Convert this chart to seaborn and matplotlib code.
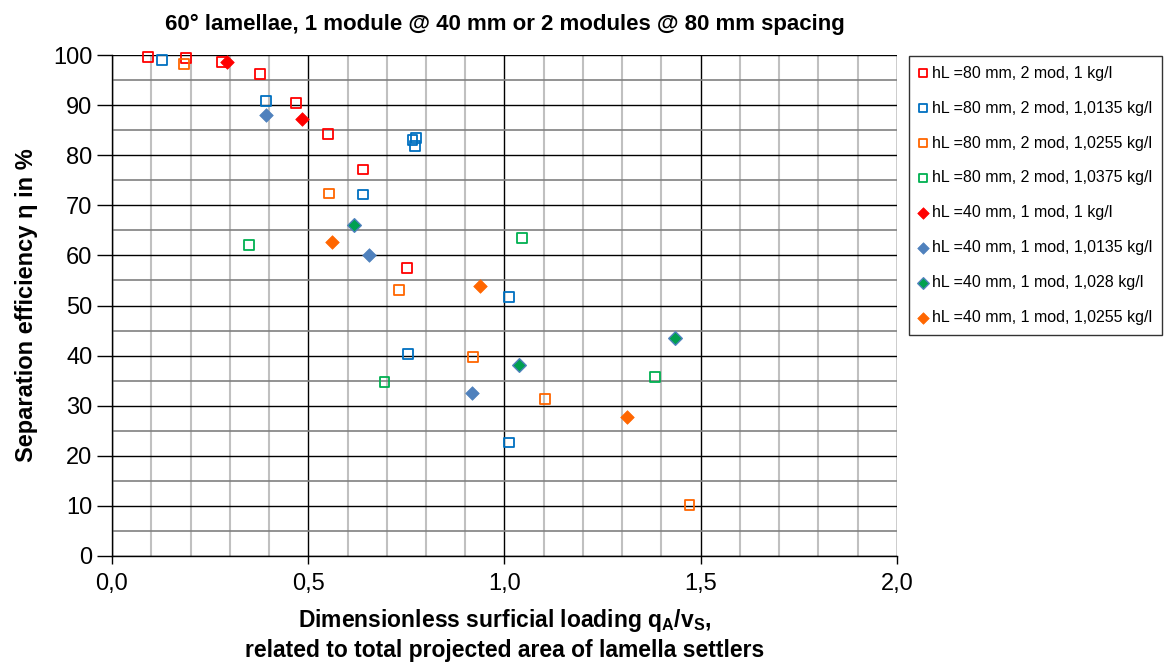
import matplotlib
matplotlib.use("Agg")
import matplotlib.pyplot as plt
import seaborn as sns
from matplotlib.ticker import MultipleLocator

sns.set_style("white")
plt.rcParams['font.family'] = ['Liberation Sans', 'DejaVu Sans']
plt.rcParams['mathtext.fontset'] = 'custom'
plt.rcParams['mathtext.rm'] = 'Liberation Sans'
plt.rcParams['mathtext.bf'] = 'Liberation Sans:bold'
for key in ['text.color', 'axes.labelcolor', 'xtick.color', 'ytick.color']:
    plt.rcParams[key] = 'black'

# data (x = qA/vS, y = efficiency in %)
x_80_1000 = [0.092, 0.189, 0.280, 0.377, 0.469, 0.550, 0.640, 0.752]
y_80_1000 = [99.6, 99.4, 98.6, 96.2, 90.4, 84.2, 77.2, 57.5]

x_80_10135 = [0.127, 0.392, 0.765, 0.775, 0.772, 0.640, 0.754, 1.011, 1.011]
y_80_10135 = [99.0, 90.8, 83.0, 83.4, 81.8, 72.1, 40.3, 51.7, 22.6]

x_80_10255 = [0.183, 0.553, 0.731, 0.920, 1.103, 1.472]
y_80_10255 = [98.2, 72.3, 53.1, 39.7, 31.3, 10.2]

x_80_10375 = [0.349, 1.045, 0.695, 1.383]
y_80_10375 = [62.1, 63.5, 34.7, 35.7]

x_40_1000 = [0.293, 0.484]
y_40_1000 = [98.6, 87.2]

x_40_10135 = [0.392, 0.655, 0.917]
y_40_10135 = [88.0, 60.1, 32.5]

x_40_1028 = [0.617, 1.037, 1.434]
y_40_1028 = [66.1, 38.1, 43.5]

x_40_10255 = [0.560, 0.937, 1.312]
y_40_10255 = [62.7, 53.9, 27.7]

series_labels = [
    "hL =80 mm, 2 mod, 1 kg/l",
    "hL =80 mm, 2 mod, 1,0135 kg/l",
    "hL =80 mm, 2 mod, 1,0255 kg/l",
    "hL =80 mm, 2 mod, 1,0375 kg/l",
    "hL =40 mm, 1 mod, 1 kg/l",
    "hL =40 mm, 1 mod, 1,0135 kg/l",
    "hL =40 mm, 1 mod, 1,028 kg/l",
    "hL =40 mm, 1 mod, 1,0255 kg/l",
]
x_ticklabels = ["0,0", "0,5", "1,0", "1,5", "2,0"]
y_ticklabels = ["0", "10", "20", "30", "40", "50", "60", "70", "80", "90", "100"]

xs = [x_80_1000, x_80_10135, x_80_10255, x_80_10375,
      x_40_1000, x_40_10135, x_40_1028, x_40_10255]
ys = [y_80_1000, y_80_10135, y_80_10255, y_80_10375,
      y_40_1000, y_40_10135, y_40_1028, y_40_10255]

# marker, size, face, edge, linewidth
styles = [
    ("s", 46, "none", "#FF0000", 1.3),
    ("s", 46, "none", "#0070C0", 1.3),
    ("s", 46, "none", "#FF6600", 1.3),
    ("s", 46, "none", "#00B050", 1.3),
    ("D", 48, "#FF0000", "#FF0000", 0.5),
    ("D", 48, "#4F81BD", "#4F81BD", 0.5),
    ("D", 48, "#00A050", "#4F81BD", 1.0),
    ("D", 48, "#FF6600", "#FF6600", 0.5),
]

fig = plt.figure(figsize=(11.68, 6.63), dpi=100)
ax = fig.add_axes([112 / 1168, 1 - 556 / 663, 785 / 1168, 501 / 663])

for x, y, lab, (m, sz, fc, ec, lw) in zip(xs, ys, series_labels, styles):
    sns.scatterplot(x=x, y=y, ax=ax, marker=m, s=sz, facecolor=fc,
                    edgecolor=ec, linewidth=lw, label=lab, clip_on=False,
                    zorder=5)

ax.set_xlim(0, 2)
ax.set_ylim(0, 100)
ax.set_xticks([0, 0.5, 1.0, 1.5, 2.0], x_ticklabels)
ax.set_yticks(range(0, 101, 10), y_ticklabels)
ax.xaxis.set_minor_locator(MultipleLocator(0.1))
ax.yaxis.set_minor_locator(MultipleLocator(5))

ax.grid(which="minor", axis="x", color="#C0C0C0", linewidth=1.5)
ax.grid(which="major", axis="x", color="black", linewidth=1)
ax.grid(which="minor", axis="y", color="#808080", linewidth=1.2)
ax.grid(which="major", axis="y", color="black", linewidth=1)
ax.set_axisbelow(True)

for side in ["top", "right"]:
    ax.spines[side].set_visible(False)
for side in ["left", "bottom"]:
    ax.spines[side].set_color("black")
    ax.spines[side].set_linewidth(1)

ax.tick_params(which="major", direction="out", width=1, color="black",
               labelcolor="black", labelsize=17, left=True, bottom=True)
ax.tick_params(axis="y", which="major", length=11, pad=3)
ax.tick_params(axis="x", which="major", length=6, pad=6)
ax.tick_params(which="minor", length=0)

ax.set_title("60° lamellae, 1 module @ 40 mm or 2 modules @ 80 mm spacing",
             fontsize=16, fontweight="bold", pad=18)
ax.set_ylabel("Separation efficiency η in %", fontsize=17, fontweight="bold",
              labelpad=11)
ax.set_xlabel("Dimensionless surficial loading q$_{\\bf A}$/v$_{\\bf S}$,\n"
              "related to total projected area of lamella settlers",
              fontsize=16.5, fontweight="bold", labelpad=9, linespacing=1.25)

leg = ax.legend(loc="upper left", bbox_to_anchor=(909 / 1168, 1 - 56 / 663),
                bbox_transform=fig.transFigure, borderaxespad=0,
                fontsize=11.5, frameon=True, fancybox=False, edgecolor="black",
                labelspacing=1.25, handletextpad=0.25, handlelength=0.6,
                borderpad=0.6, markerscale=0.85)
leg.get_frame().set_linewidth(1)

fig.savefig("out.png", dpi=100)
